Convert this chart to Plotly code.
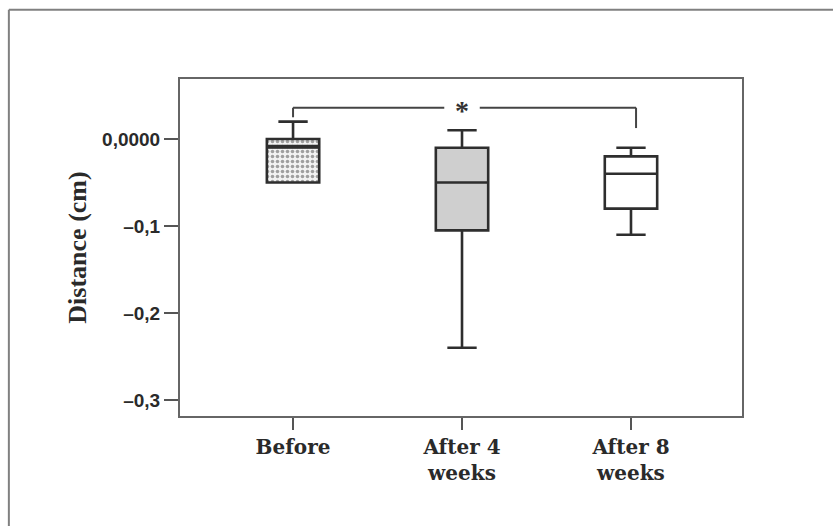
import plotly.graph_objects as go

# ---- data ----
groups = ["Before", "After 4<br>weeks", "After 8<br>weeks"]
positions = [0, 1, 2]
q1 = [-0.05, -0.105, -0.08]
median = [-0.009, -0.05, -0.04]
q3 = [0.0, -0.01, -0.02]
lower_whisker = [-0.05, -0.24, -0.11]
upper_whisker = [0.02, 0.01, -0.01]
fills = ["rgba(0,0,0,0)", "#cfcfcf", "#ffffff"]

y_tickvals = [0.0, -0.1, -0.2, -0.3]
y_ticktext = ["0,0000", "–0,1", "–0,2", "–0,3"]

# significance bracket between Before and After 8 weeks
sig_pair = [0, 2]
sig_level = 0.036
sig_stub_ends = [0.025, 0.0126]

BOX_W = 0.31
LINE = "#2e2e2e"
FRAME = "#666666"

fig = go.Figure()

# stippled fill for the "Before" box
fig.add_trace(go.Bar(
    x=[positions[0]], y=[q3[0] - q1[0]], base=[q1[0]], width=BOX_W,
    marker=dict(color="#ffffff", line=dict(width=0),
                pattern=dict(shape=".", fgcolor="#4a4a4a", bgcolor="#f2f2f2",
                             size=5, solidity=0.4)),
    hoverinfo="skip", showlegend=False))

for i, p in enumerate(positions):
    fig.add_trace(go.Box(
        x=[p], q1=[q1[i]], median=[median[i]], q3=[q3[i]],
        lowerfence=[lower_whisker[i]], upperfence=[upper_whisker[i]],
        width=BOX_W, whiskerwidth=0.56, boxpoints=False,
        fillcolor=fills[i], line=dict(color=LINE, width=2.6),
        showlegend=False))

# thicker median for the first group
fig.add_trace(go.Scatter(
    x=[positions[0] - BOX_W / 2, positions[0] + BOX_W / 2],
    y=[median[0], median[0]], mode="lines",
    line=dict(color=LINE, width=4), hoverinfo="skip", showlegend=False))

shapes = []
xa, xb = sig_pair
mid = (xa + xb) / 2
gap = 0.105
bracket_col = "#444444"
shapes.append(dict(type="line", xref="x", yref="y", x0=xa, x1=xa,
                   y0=sig_stub_ends[0], y1=sig_level, line=dict(color=bracket_col, width=2)))
shapes.append(dict(type="line", xref="x", yref="y", x0=xa, x1=mid - gap,
                   y0=sig_level, y1=sig_level, line=dict(color=bracket_col, width=2)))
shapes.append(dict(type="line", xref="x", yref="y", x0=mid + gap, x1=xb + 0.03,
                   y0=sig_level, y1=sig_level, line=dict(color=bracket_col, width=2)))
shapes.append(dict(type="line", xref="x", yref="y", x0=xb + 0.03, x1=xb + 0.03,
                   y0=sig_stub_ends[1], y1=sig_level, line=dict(color=bracket_col, width=2)))

# outer figure frame (left and top edges visible)
shapes.append(dict(type="line", xref="paper", yref="paper",
                   x0=-0.3045, x1=-0.3045, y0=-0.6, y1=1.2055,
                   line=dict(color="#808080", width=2)))
shapes.append(dict(type="line", xref="paper", yref="paper",
                   x0=-0.3045, x1=1.3, y0=1.2055, y1=1.2055,
                   line=dict(color="#808080", width=2)))

fig.update_layout(
    width=833, height=526,
    margin=dict(l=180, r=91, t=79, b=110),
    paper_bgcolor="white", plot_bgcolor="white",
    shapes=shapes,
    annotations=[dict(x=mid, y=sig_level, xref="x", yref="y", text="<b>*</b>",
                      showarrow=False, yshift=-3,
                      font=dict(family="Liberation Serif", size=28, color="#333333"))],
    xaxis=dict(range=[-0.669, 2.657], tickvals=positions, ticktext=["<b>%s</b>" % g for g in groups],
               showgrid=False, zeroline=False, showline=True, mirror=True,
               linecolor=FRAME, linewidth=2, ticks="outside", ticklen=12,
               tickcolor="#555555", tickwidth=2,
               tickfont=dict(family="DejaVu Serif", size=20, color="#2a2a2a")),
    yaxis=dict(range=[-0.3184, 0.069], tickvals=y_tickvals, ticktext=y_ticktext,
               showgrid=False, zeroline=False, showline=True, mirror=True,
               linecolor=FRAME, linewidth=2, ticks="outside", ticklen=14,
               tickcolor="#555555", tickwidth=2,
               tickfont=dict(family="Liberation Sans", size=19, color="#2a2a2a", weight="bold"),
               title=dict(text="<b>Distance (cm)</b>", standoff=8,
                          font=dict(family="Liberation Serif", size=26, color="#2a2a2a"))),
    bargap=0,
)

fig.write_html("out.html")
